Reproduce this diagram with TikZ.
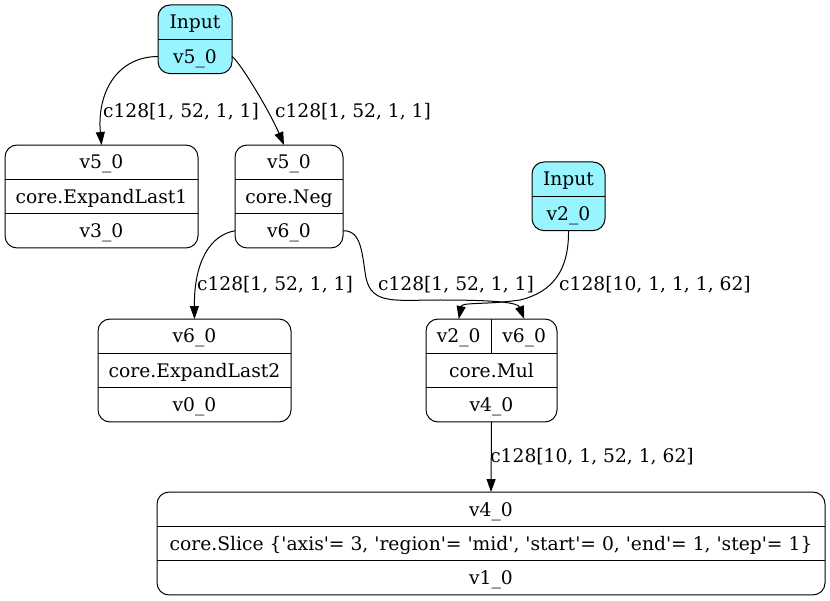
\documentclass[tikz,border=0pt]{standalone}
\usepackage{fontspec}
\setmainfont{DejaVu Serif}[Ligatures=TeXOff]
\usetikzlibrary{arrows.meta}
\definecolor{inputfill}{HTML}{98F5FF}
\newcommand\recfont{\fontsize{18.7pt}{22pt}\selectfont}
\begin{document}
\begin{tikzpicture}[x=1pt,y=-1pt,
  rec/.style={draw, line width=1pt, rounded corners=12pt, inner sep=0pt, outer sep=0pt},
  inrec/.style={rec, fill=inputfill},
  txt/.style={inner sep=0pt, font=\recfont, text height=13.6pt, text depth=0pt},
  wire/.style={line width=1pt, -{Triangle[length=13pt,width=9pt]}},
  sep/.style={line width=1pt}]
\useasboundingbox (0,0) rectangle (830,601);

% ---- record boxes ----
\node[inrec, minimum width=74pt,  minimum height=68.6pt]  (in5)   at (195,39.3)   {};
\node[rec,   minimum width=193pt, minimum height=102.9pt] (el1)   at (101.5,196.5) {};
\node[rec,   minimum width=108pt, minimum height=102.9pt] (neg)   at (289,196.5)  {};
\node[inrec, minimum width=73pt,  minimum height=68.6pt]  (in2)   at (568.5,196.3) {};
\node[rec,   minimum width=193pt, minimum height=102.9pt] (el2)   at (194.5,370.5) {};
\node[rec,   minimum width=131pt, minimum height=102.9pt] (mul)   at (491.5,370.5) {};
\node[rec,   minimum width=668pt, minimum height=102.9pt] (slice) at (491,543.5)  {};

% ---- row separators ----
\draw[sep] (in5.west) -- (in5.east);
\draw[sep] (in2.west) -- (in2.east);
\foreach \r in {el1,neg,el2,mul,slice}{
  \draw[sep] ([yshift=17.15pt]\r.west) -- ([yshift=17.15pt]\r.east);
  \draw[sep] ([yshift=-17.15pt]\r.west) -- ([yshift=-17.15pt]\r.east);
}
\draw[sep] (mul.north) -- ([yshift=-34.3pt]mul.north);

% ---- field texts ----
\node[txt] (in5-a) at (195,22)    {Input};
\node[txt] (in5-b) at (195,56.5)  {v5\_0};
\node[txt] (in2-a) at (568.5,179) {Input};
\node[txt] (in2-b) at (568.5,213.5) {v2\_0};

\node[txt] (el1-a) at (101.5,162.2) {v5\_0};
\node[txt] (el1-b) at (101.5,196.5) {core.ExpandLast1};
\node[txt] (el1-c) at (101.5,230.8) {v3\_0};

\node[txt] (neg-a) at (289,162.2) {v5\_0};
\node[txt] (neg-b) at (289,196.5) {core.Neg};
\node[txt] (neg-c) at (289,230.8) {v6\_0};

\node[txt] (el2-a) at (194.5,336.2) {v6\_0};
\node[txt] (el2-b) at (194.5,370.5) {core.ExpandLast2};
\node[txt] (el2-c) at (194.5,404.8) {v0\_0};

\node[txt] (mul-a) at (458.75,336.2) {v2\_0};
\node[txt] (mul-d) at (524.25,336.2) {v6\_0};
\node[txt] (mul-b) at (491.5,370.5) {core.Mul};
\node[txt] (mul-c) at (491.5,404.8) {v4\_0};

\node[txt] (slice-a) at (491,509.2) {v4\_0};
\node[txt] (slice-b) at (491,543.5) {core.Slice \{'axis'= 3, 'region'= 'mid', 'start'= 0, 'end'= 1, 'step'= 1\}};
\node[txt] (slice-c) at (491,577.8) {v1\_0};

% ---- ports ----
\coordinate (in5-w) at ([yshift=-17.15pt]in5.west);
\coordinate (in5-e) at ([yshift=-17.15pt]in5.east);
\coordinate (neg-w) at ([yshift=-34.3pt]neg.west);
\coordinate (neg-e) at ([yshift=-34.3pt]neg.east);
\coordinate (mul-p1) at ([xshift=-32.75pt]mul.north);
\coordinate (mul-p2) at ([xshift=32.75pt]mul.north);
\coordinate (neg-in) at ([xshift=-5pt]neg.north);

% ---- connectors ----
\draw[wire] (in5-w) .. controls (115,57) and (97,95) .. (el1.north);
\draw[wire] (in5-e) .. controls (240,62) and (270,112) .. (neg-in);
\draw[wire] (neg-w) .. controls (210,235) and (194,262) .. (el2.north);
\draw[wire] (neg-e) .. controls (362,230) and (362,255) .. (366,278)
             .. controls (372,305) and (395,300) .. (440,300)
             .. controls (500,300) and (518,303) .. (mul-p2);
\draw[wire] (in2.south) .. controls (569,270) and (553,292) .. (520,300)
             .. controls (485,305) and (462,302) .. (mul-p1);
\draw[wire] (mul.south) -- (slice.north);

% ---- connector labels ----
\node[txt] (l1) at (181,110.5) {c128[1, 52, 1, 1]};
\node[txt] (l2) at (353,110.5) {c128[1, 52, 1, 1]};
\node[txt] (l3) at (275,283.5) {c128[1, 52, 1, 1]};
\node[txt] (l4) at (456,283.5) {c128[1, 52, 1, 1]};
\node[txt] (l5) at (655,283.5) {c128[10, 1, 1, 1, 62]};
\node[txt] (l6) at (592,455.5) {c128[10, 1, 52, 1, 62]};
\end{tikzpicture}
\end{document}
